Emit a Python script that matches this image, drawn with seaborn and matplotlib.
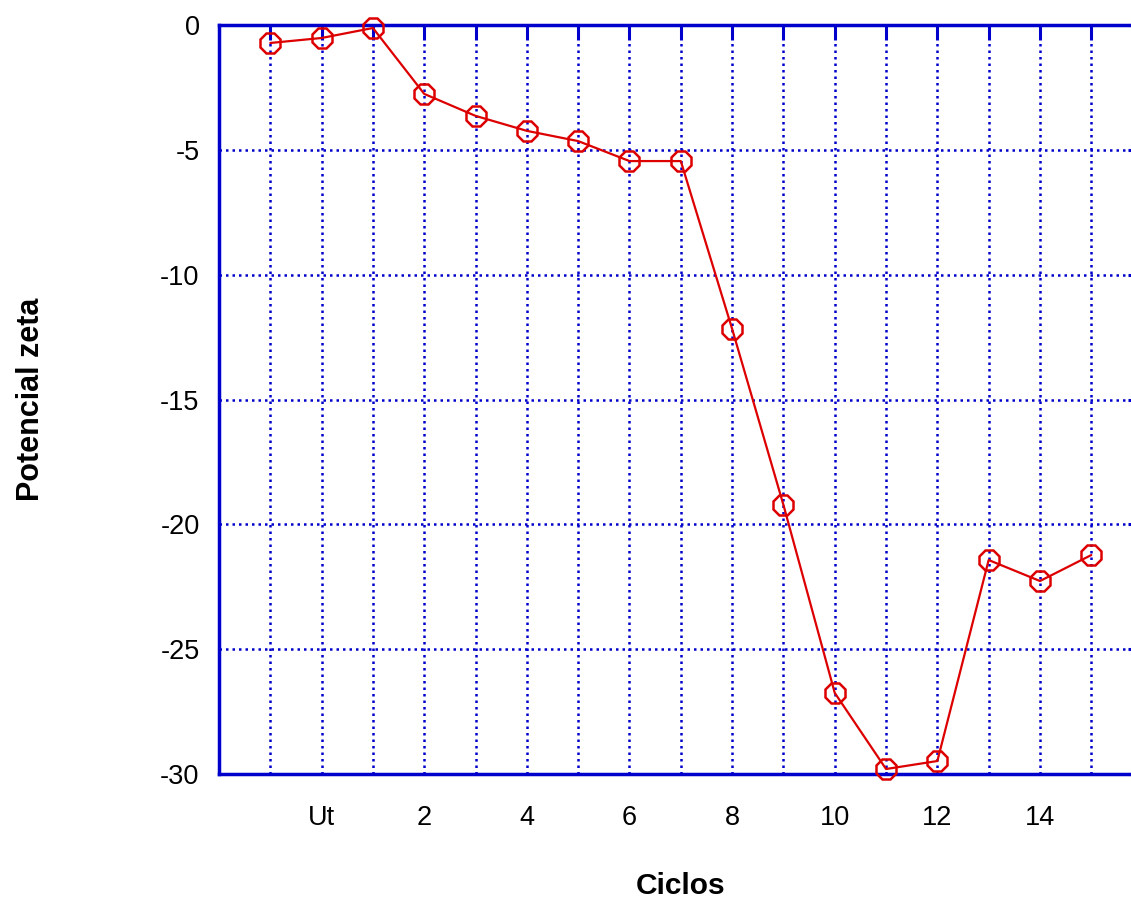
import matplotlib
matplotlib.use("Agg")
import matplotlib.pyplot as plt
import seaborn as sns
import pandas as pd

# valores (x=-1 .. 15, 0 = "Ut")
ciclos = list(range(-1, 16))
potencial = [-0.72, -0.52, -0.12, -2.76, -3.64, -4.24, -4.65, -5.45, -5.45,
             -12.17, -19.22, -26.75, -29.8, -29.48, -21.43, -22.27, -21.23]
tick_pos = list(range(-1, 16))
tick_lab = ["", "Ut", "", "2", "", "4", "", "6", "", "8", "", "10", "", "12", "", "14", ""]
y_ticks = [0, -5, -10, -15, -20, -25, -30]

BLUE = "#0000cc"
RED = "#dd0000"

sns.set_style("white")
plt.rcParams["font.family"] = ["Liberation Sans", "DejaVu Sans"]

df = pd.DataFrame({"Ciclos": ciclos, "Potencial zeta": potencial})

fig = plt.figure(figsize=(11.31, 9.01), dpi=100)
# el eje derecho queda fuera de la imagen, como en el original
ax = fig.add_axes([219 / 1131, 1 - 774 / 901, (1142.6 - 219) / 1131, (774 - 25) / 901])

sns.lineplot(data=df, x="Ciclos", y="Potencial zeta", ax=ax, color=RED, lw=1.6,
             marker="8", markersize=16, markerfacecolor="none",
             markeredgecolor=RED, markeredgewidth=1.8, zorder=5, clip_on=False)

ax.set_xlim(-2, 16)
ax.set_ylim(-30, 0)
ax.set_xticks(tick_pos)
ax.set_xticklabels(tick_lab)
ax.set_yticks(y_ticks)
ax.set_yticklabels([str(v) for v in y_ticks])
ax.tick_params(axis="both", direction="in", length=11, width=2.2, color=BLUE,
               labelsize=19.5, labelcolor="black", top=True, right=True, pad=14)
ax.tick_params(axis="x", pad=22)
ax.grid(True, color=BLUE, linestyle=(0, (1, 1.6)), linewidth=1.8)
for s in ax.spines.values():
    s.set_color(BLUE)
    s.set_linewidth(2.5)

ax.set_xlabel("Ciclos", fontsize=21.5, fontweight="bold", color="black", labelpad=30)
ax.set_ylabel("Potencial zeta", fontsize=22, fontweight="bold", color="black", labelpad=82)

fig.savefig("out.png", dpi=100)
